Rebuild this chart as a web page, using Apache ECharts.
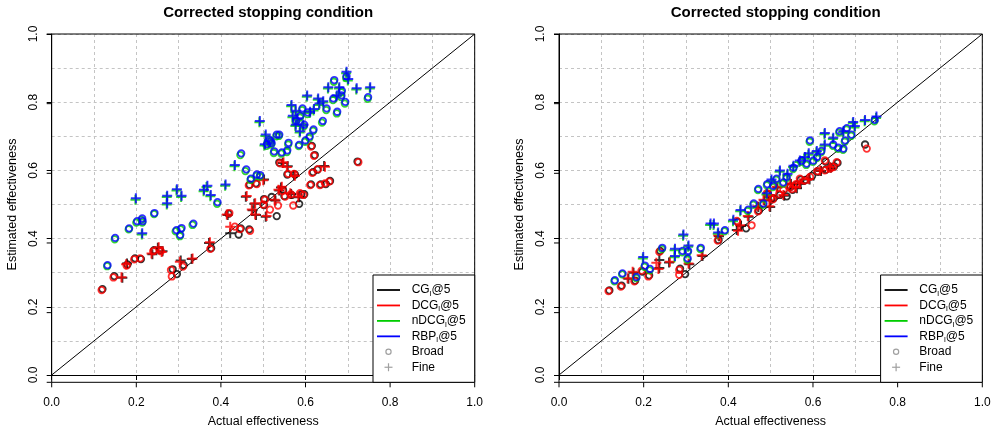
<!DOCTYPE html>
<html>
<head>
<meta charset="utf-8">
<script src="https://cdn.jsdelivr.net/npm/echarts@6/dist/echarts.min.js"></script>
<style>
  html, body { margin: 0; padding: 0; background: #fff; }
  #chart { width: 997px; height: 433px; }
</style>
</head>
<body>
<div id="chart"></div>
<script>
// Axis ticks and panel titles
const tickValues = [0.0, 0.2, 0.4, 0.6, 0.8, 1.0];
const panelTitles = ['Corrected stopping condition', 'Corrected stopping condition'];
const xTitle = 'Actual effectiveness';
const yTitle = 'Estimated effectiveness';
const metricNames = ['CG', 'DCG', 'nDCG', 'RBP'];
const metricColors = ['#000000', '#ff0000', '#00cd00', '#0000ff'];
const typeNames = ['Broad', 'Fine'];

// ---- Left panel: [actual, estimated] ----
const leftCGBroad = [[0.120,0.252],[0.148,0.290],[0.179,0.324],[0.197,0.342],[0.211,0.340],[0.242,0.366],[0.256,0.366],[0.296,0.296],[0.286,0.310],[0.312,0.322],[0.377,0.372],[0.418,0.473],[0.442,0.412],[0.447,0.430],[0.467,0.427],[0.468,0.558],[0.483,0.562],[0.502,0.516],[0.520,0.522],[0.538,0.623],[0.557,0.588],[0.585,0.502],[0.575,0.588],[0.590,0.530],[0.597,0.530],[0.618,0.595],[0.615,0.672],[0.622,0.645],[0.628,0.602],[0.613,0.559],[0.636,0.559],[0.648,0.560],[0.658,0.569],[0.723,0.626],[0.550,0.525],[0.532,0.466],[0.502,0.498],[0.547,0.542],[0.567,0.528]];
const leftCGFine = [[0.167,0.285],[0.178,0.327],[0.238,0.354],[0.251,0.373],[0.262,0.363],[0.305,0.336],[0.331,0.340],[0.372,0.387],[0.416,0.469],[0.422,0.416],[0.459,0.523],[0.475,0.483],[0.483,0.469],[0.502,0.573],[0.506,0.464],[0.538,0.541],[0.546,0.622],[0.558,0.612],[0.566,0.531],[0.573,0.586],[0.585,0.521],[0.644,0.613],[0.479,0.502],[0.529,0.512],[0.542,0.550]];
const leftDCGBroad = [[0.118,0.249],[0.146,0.286],[0.177,0.321],[0.195,0.339],[0.209,0.342],[0.240,0.363],[0.258,0.363],[0.282,0.308],[0.284,0.289],[0.310,0.318],[0.375,0.370],[0.420,0.475],[0.433,0.435],[0.445,0.428],[0.469,0.423],[0.466,0.556],[0.485,0.560],[0.504,0.514],[0.516,0.485],[0.540,0.621],[0.559,0.590],[0.571,0.497],[0.573,0.590],[0.587,0.533],[0.595,0.528],[0.616,0.593],[0.613,0.670],[0.620,0.643],[0.630,0.604],[0.611,0.557],[0.634,0.557],[0.646,0.562],[0.656,0.567],[0.725,0.624],[0.552,0.523],[0.535,0.497],[0.500,0.500],[0.545,0.540],[0.565,0.530]];
const leftDCGFine = [[0.165,0.287],[0.176,0.325],[0.236,0.356],[0.253,0.375],[0.260,0.361],[0.303,0.332],[0.333,0.342],[0.374,0.389],[0.414,0.471],[0.422,0.435],[0.461,0.525],[0.473,0.485],[0.481,0.471],[0.500,0.571],[0.508,0.466],[0.536,0.543],[0.548,0.624],[0.556,0.610],[0.564,0.533],[0.575,0.584],[0.583,0.523],[0.646,0.611],[0.481,0.504],[0.527,0.514],[0.544,0.552]];
const leftNDCGBroad = [[0.131,0.319],[0.149,0.398],[0.182,0.427],[0.200,0.447],[0.212,0.455],[0.214,0.447],[0.242,0.472],[0.293,0.421],[0.305,0.427],[0.303,0.407],[0.333,0.440],[0.391,0.502],[0.446,0.645],[0.458,0.598],[0.470,0.572],[0.484,0.584],[0.492,0.582],[0.508,0.672],[0.517,0.681],[0.525,0.651],[0.531,0.700],[0.537,0.701],[0.543,0.649],[0.556,0.654],[0.559,0.676],[0.584,0.671],[0.592,0.777],[0.596,0.729],[0.599,0.684],[0.609,0.695],[0.618,0.716],[0.639,0.740],[0.649,0.777],[0.665,0.806],[0.667,0.860],[0.674,0.767],[0.685,0.829],[0.693,0.796],[0.696,0.871],[0.747,0.810],[0.684,0.815],[0.587,0.755],[0.577,0.740],[0.604,0.765],[0.519,0.676],[0.514,0.686]];
const leftNDCGFine = [[0.198,0.514],[0.213,0.412],[0.272,0.522],[0.272,0.500],[0.295,0.541],[0.306,0.522],[0.359,0.539],[0.366,0.551],[0.375,0.524],[0.410,0.555],[0.432,0.612],[0.491,0.741],[0.505,0.701],[0.503,0.673],[0.566,0.788],[0.576,0.771],[0.576,0.730],[0.580,0.749],[0.586,0.711],[0.594,0.730],[0.603,0.816],[0.610,0.768],[0.629,0.807],[0.632,0.792],[0.641,0.799],[0.653,0.840],[0.673,0.816],[0.679,0.840],[0.696,0.885],[0.700,0.864],[0.720,0.837],[0.752,0.840],[0.569,0.756],[0.619,0.776]];
const leftRBPBroad = [[0.132,0.322],[0.150,0.402],[0.183,0.430],[0.202,0.451],[0.214,0.459],[0.215,0.451],[0.243,0.475],[0.295,0.425],[0.307,0.431],[0.304,0.411],[0.335,0.444],[0.392,0.507],[0.448,0.650],[0.460,0.603],[0.471,0.576],[0.485,0.588],[0.493,0.586],[0.509,0.677],[0.518,0.686],[0.526,0.656],[0.532,0.705],[0.538,0.705],[0.544,0.653],[0.557,0.659],[0.560,0.681],[0.585,0.675],[0.593,0.782],[0.597,0.734],[0.600,0.688],[0.610,0.700],[0.619,0.720],[0.641,0.745],[0.650,0.782],[0.666,0.811],[0.668,0.865],[0.675,0.772],[0.686,0.834],[0.694,0.801],[0.697,0.876],[0.748,0.815],[0.685,0.820],[0.588,0.760],[0.578,0.745],[0.605,0.770],[0.520,0.680],[0.515,0.690]];
const leftRBPFine = [[0.199,0.518],[0.214,0.416],[0.273,0.526],[0.273,0.504],[0.296,0.545],[0.307,0.526],[0.360,0.543],[0.368,0.555],[0.376,0.528],[0.411,0.559],[0.433,0.616],[0.492,0.745],[0.506,0.705],[0.504,0.677],[0.567,0.792],[0.577,0.775],[0.577,0.734],[0.581,0.753],[0.587,0.715],[0.595,0.734],[0.604,0.820],[0.611,0.772],[0.630,0.811],[0.633,0.796],[0.642,0.803],[0.654,0.844],[0.674,0.820],[0.680,0.844],[0.697,0.889],[0.701,0.868],[0.721,0.841],[0.753,0.844],[0.570,0.760],[0.620,0.780]];

// ---- Right panel: [actual, estimated] ----
const rightCGBroad = [[0.119,0.248],[0.148,0.262],[0.180,0.277],[0.197,0.303],[0.213,0.292],[0.239,0.364],[0.286,0.312],[0.298,0.296],[0.377,0.396],[0.422,0.449],[0.442,0.430],[0.472,0.482],[0.493,0.530],[0.507,0.518],[0.522,0.528],[0.538,0.524],[0.547,0.552],[0.562,0.558],[0.571,0.573],[0.582,0.572],[0.598,0.584],[0.612,0.596],[0.630,0.602],[0.630,0.626],[0.642,0.608],[0.650,0.612],[0.658,0.622],[0.723,0.676],[0.502,0.518],[0.552,0.543]];
const rightCGFine = [[0.164,0.282],[0.176,0.300],[0.237,0.337],[0.237,0.314],[0.260,0.330],[0.308,0.325],[0.339,0.349],[0.378,0.407],[0.420,0.425],[0.430,0.437],[0.448,0.464],[0.471,0.493],[0.485,0.512],[0.499,0.493],[0.500,0.526],[0.516,0.550],[0.532,0.526],[0.548,0.560],[0.571,0.560],[0.619,0.598],[0.642,0.608],[0.562,0.548],[0.592,0.573]];
const rightDCGBroad = [[0.117,0.246],[0.146,0.259],[0.178,0.275],[0.195,0.306],[0.211,0.289],[0.237,0.361],[0.284,0.308],[0.284,0.294],[0.375,0.394],[0.420,0.452],[0.455,0.439],[0.470,0.480],[0.491,0.533],[0.505,0.515],[0.520,0.530],[0.530,0.543],[0.545,0.550],[0.560,0.560],[0.569,0.576],[0.580,0.570],[0.593,0.581],[0.610,0.598],[0.628,0.600],[0.628,0.629],[0.640,0.605],[0.648,0.610],[0.656,0.624],[0.727,0.664],[0.500,0.520],[0.550,0.545]];
const rightDCGFine = [[0.162,0.284],[0.174,0.303],[0.230,0.329],[0.235,0.311],[0.262,0.332],[0.306,0.327],[0.337,0.351],[0.376,0.409],[0.423,0.423],[0.428,0.439],[0.446,0.466],[0.469,0.495],[0.483,0.514],[0.497,0.495],[0.498,0.528],[0.514,0.552],[0.530,0.528],[0.546,0.562],[0.569,0.562],[0.617,0.600],[0.640,0.610],[0.560,0.550],[0.590,0.575]];
const rightNDCGBroad = [[0.131,0.275],[0.149,0.295],[0.182,0.284],[0.202,0.317],[0.214,0.307],[0.243,0.369],[0.291,0.360],[0.304,0.360],[0.303,0.338],[0.334,0.369],[0.391,0.421],[0.446,0.481],[0.459,0.499],[0.470,0.542],[0.482,0.499],[0.491,0.556],[0.505,0.551],[0.513,0.572],[0.537,0.577],[0.553,0.604],[0.572,0.625],[0.592,0.684],[0.600,0.625],[0.619,0.653],[0.647,0.672],[0.659,0.663],[0.662,0.711],[0.671,0.660],[0.675,0.684],[0.679,0.720],[0.690,0.701],[0.745,0.744],[0.584,0.616],[0.609,0.636],[0.529,0.561]];
const rightNDCGFine = [[0.198,0.342],[0.273,0.366],[0.273,0.345],[0.293,0.408],[0.305,0.376],[0.357,0.440],[0.365,0.440],[0.375,0.414],[0.411,0.451],[0.428,0.480],[0.490,0.529],[0.501,0.569],[0.521,0.596],[0.553,0.610],[0.568,0.625],[0.580,0.635],[0.608,0.653],[0.627,0.706],[0.627,0.672],[0.647,0.692],[0.671,0.711],[0.694,0.738],[0.698,0.726],[0.722,0.744],[0.749,0.754],[0.589,0.646],[0.539,0.586]];
const rightRBPBroad = [[0.132,0.278],[0.150,0.298],[0.183,0.287],[0.203,0.321],[0.215,0.311],[0.244,0.373],[0.292,0.364],[0.305,0.364],[0.304,0.342],[0.335,0.373],[0.392,0.425],[0.447,0.485],[0.460,0.503],[0.471,0.546],[0.483,0.503],[0.492,0.560],[0.506,0.555],[0.514,0.576],[0.538,0.581],[0.554,0.608],[0.573,0.629],[0.593,0.688],[0.601,0.629],[0.620,0.657],[0.648,0.676],[0.660,0.667],[0.663,0.715],[0.672,0.664],[0.676,0.688],[0.680,0.724],[0.691,0.705],[0.746,0.748],[0.585,0.620],[0.610,0.640],[0.530,0.565]];
const rightRBPFine = [[0.199,0.346],[0.274,0.370],[0.274,0.349],[0.294,0.412],[0.306,0.380],[0.358,0.444],[0.366,0.444],[0.376,0.418],[0.412,0.455],[0.429,0.484],[0.491,0.533],[0.502,0.573],[0.522,0.600],[0.554,0.614],[0.569,0.629],[0.581,0.639],[0.609,0.657],[0.628,0.710],[0.628,0.676],[0.648,0.696],[0.672,0.715],[0.695,0.742],[0.699,0.730],[0.723,0.748],[0.750,0.758],[0.590,0.650],[0.540,0.590]];

const panels = [
  { broad: [leftCGBroad, leftDCGBroad, leftNDCGBroad, leftRBPBroad],
    fine:  [leftCGFine, leftDCGFine, leftNDCGFine, leftRBPFine] },
  { broad: [rightCGBroad, rightDCGBroad, rightNDCGBroad, rightRBPBroad],
    fine:  [rightCGFine, rightDCGFine, rightNDCGFine, rightRBPFine] }
];

// Layout of the two plotting regions (pixels)
const plotBoxes = [
  { left: 51.7, top: 34, width: 423, height: 348.3 },
  { left: 559, top: 34, width: 423.3, height: 348.3 }
];

const FONT = '"Liberation Sans", Arial, Helvetica, sans-serif';
const GRID_COLOR = '#c4c4c4';
const CROSS = 'path://M4,0 H6 V4 H10 V6 H6 V10 H4 V6 H0 V4 H4 Z';

const chart = echarts.init(document.getElementById('chart'), null, { renderer: 'canvas' });

const fmt = v => v.toFixed(1);

function axisCommon(isY, idx) {
  return {
    type: 'value', gridIndex: idx, min: 0, max: 1, interval: 0.2,
    name: isY ? yTitle : xTitle,
    nameLocation: 'middle',
    nameGap: isY ? 33 : 40,
    nameTextStyle: { fontFamily: FONT, fontSize: 12.5, color: '#000' },
    axisLine: { show: true, onZero: false, lineStyle: { color: '#000', width: 1 } },
    axisTick: { show: true, inside: false, length: 5, lineStyle: { color: '#000', width: 1 } },
    axisLabel: {
      fontFamily: FONT, fontSize: 12, color: '#000',
      formatter: fmt, margin: isY ? 12 : 22, rotate: isY ? 90 : 0,
      showMinLabel: true, showMaxLabel: true
    },
    splitLine: { show: true, lineStyle: { color: GRID_COLOR, width: 1, type: [3, 3] } },
    minorTick: { show: false, splitNumber: 2 },
    minorSplitLine: { show: true, lineStyle: { color: GRID_COLOR, width: 1, type: [3, 3] } }
  };
}

const series = [];
panels.forEach((p, pi) => {
  // reference diagonal y = x
  series.push({
    type: 'line', xAxisIndex: pi, yAxisIndex: pi,
    data: [[0, 0], [1, 1]], showSymbol: false, silent: true,
    lineStyle: { color: '#000', width: 1 }, z: 2
  });
  metricNames.forEach((m, mi) => {
    series.push({
      name: m + ' Broad', type: 'scatter', xAxisIndex: pi, yAxisIndex: pi,
      data: p.broad[mi], symbol: 'circle', symbolSize: 6.5,
      itemStyle: { color: 'rgba(0,0,0,0)', borderColor: metricColors[mi], borderWidth: 1.8 },
      z: 3
    });
    series.push({
      name: m + ' Fine', type: 'scatter', xAxisIndex: pi, yAxisIndex: pi,
      data: p.fine[mi], symbol: CROSS, symbolSize: 10,
      itemStyle: { color: metricColors[mi] },
      z: 3
    });
  });
});

const graphics = [];
plotBoxes.forEach(b => {
  // solid frame around each plotting region
  graphics.push({
    type: 'rect', shape: { x: b.left, y: b.top, width: b.width, height: b.height },
    style: { fill: 'none', stroke: '#000', lineWidth: 1 }, z: 5, silent: true
  });
  // outward tick marks on the frame
  tickValues.forEach(t => {
    const tx = b.left + t * b.width;
    const ty = b.top + b.height - t * b.height;
    graphics.push({
      type: 'line', shape: { x1: tx, y1: b.top + b.height, x2: tx, y2: b.top + b.height + 5 },
      style: { stroke: '#000', lineWidth: 1 }, z: 5, silent: true
    });
    graphics.push({
      type: 'line', shape: { x1: b.left - 5, y1: ty, x2: b.left, y2: ty },
      style: { stroke: '#000', lineWidth: 1 }, z: 5, silent: true
    });
  });
  // legend box in the lower-right corner
  const boxW = 101.7, boxH = 107.3;
  const bx = b.left + b.width - boxW;
  const by = b.top + b.height - boxH;
  graphics.push({
    type: 'rect', shape: { x: bx, y: by, width: boxW, height: boxH },
    style: { fill: '#fff', stroke: '#000', lineWidth: 1 }, z: 10
  });
  const rowY = i => by + 15 + i * 15.45;
  metricNames.forEach((m, i) => {
    graphics.push({
      type: 'line', shape: { x1: bx + 4, y1: rowY(i), x2: bx + 27, y2: rowY(i) },
      style: { stroke: metricColors[i], lineWidth: 1.8 }, z: 11
    });
    graphics.push({
      type: 'text', x: bx + 38.7, y: rowY(i), z: 11,
      style: {
        text: '{a|' + m + '}{s|l}{a|@5}',
        verticalAlign: 'middle', fill: '#000', fontFamily: FONT, fontSize: 12,
        rich: {
          a: { fontFamily: FONT, fontSize: 12, fill: '#000', lineHeight: 14 },
          s: { fontFamily: FONT, fontSize: 8, fill: '#000', lineHeight: 14, padding: [7, 0, 0, 0] }
        }
      }
    });
  });
  // Broad (circle) and Fine (cross) entries
  graphics.push({
    type: 'circle', shape: { cx: bx + 15.5, cy: rowY(4), r: 2.6 },
    style: { fill: 'none', stroke: '#a0a0a0', lineWidth: 1.2 }, z: 11
  });
  graphics.push({
    type: 'text', x: bx + 38.7, y: rowY(4), z: 11,
    style: { text: typeNames[0], verticalAlign: 'middle', fill: '#000', fontFamily: FONT, fontSize: 12 }
  });
  graphics.push({
    type: 'line', shape: { x1: bx + 11.5, y1: rowY(5), x2: bx + 19.5, y2: rowY(5) },
    style: { stroke: '#a0a0a0', lineWidth: 1.2 }, z: 11
  });
  graphics.push({
    type: 'line', shape: { x1: bx + 15.5, y1: rowY(5) - 4, x2: bx + 15.5, y2: rowY(5) + 4 },
    style: { stroke: '#a0a0a0', lineWidth: 1.2 }, z: 11
  });
  graphics.push({
    type: 'text', x: bx + 38.7, y: rowY(5), z: 11,
    style: { text: typeNames[1], verticalAlign: 'middle', fill: '#000', fontFamily: FONT, fontSize: 12 }
  });
});

chart.setOption({
  animation: false,
  backgroundColor: '#fff',
  title: plotBoxes.map((b, i) => ({
    text: panelTitles[i],
    left: b.left + b.width / 2, top: 0, textAlign: 'center',
    textStyle: { fontFamily: FONT, fontSize: 15, fontWeight: 'bold', color: '#000' }
  })),
  grid: plotBoxes.map(b => ({
    left: b.left, top: b.top, width: b.width, height: b.height,
    show: false
  })),
  xAxis: [axisCommon(false, 0), axisCommon(false, 1)],
  yAxis: [axisCommon(true, 0), axisCommon(true, 1)],
  series: series,
  graphic: graphics
});
</script>
</body>
</html>
